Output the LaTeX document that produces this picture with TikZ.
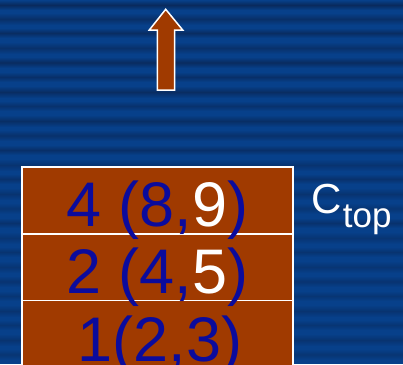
\documentclass[tikz,border=0pt]{standalone}
\usepackage{fontspec}
\setmainfont{Liberation Sans}
\definecolor{bgA}{HTML}{07408A}
\definecolor{bgD}{HTML}{0A2552}
\definecolor{brn}{HTML}{A03A00}
\definecolor{txtblue}{HTML}{0B0B9C}
\tikzset{
  rowbox/.style={draw=white, line width=1.5pt, fill=brn, minimum width=271pt, minimum height=66.5pt, inner sep=0pt},
  lbl/.style={inner sep=0pt, anchor=base, text=txtblue, font=\fontsize{63}{63}\selectfont},
  wlbl/.style={inner sep=0pt, anchor=base west, text=white},
}
\begin{document}
\begin{tikzpicture}[x=1pt,y=-1pt]
\useasboundingbox (0,0) rectangle (403,364);
\fill[bgA] (0,0) rectangle (403,364);
\foreach \y/\h/\o in {0/10/0.8,13/12/0.6,28/10/0.7,42/12/0.55,57/11/0.75,72/10/0.6,86/12/0.7,101/10/0.5,115/12/0.65,130/11/0.55,145/10/0.6,159/12/0.45,174/10/0.5,188/12/0.45,203/11/0.4,218/10/0.5,232/12/0.4,247/10/0.45,261/12/0.4,276/11/0.45,291/10/0.4,305/12/0.45,320/10/0.4,334/12/0.45,349/11/0.4} {
  \shade[top color=bgA, bottom color=bgA, middle color=bgD, opacity=\o] (0,\y) rectangle (403,\y+\h);
}
% arrow
\draw[white, line width=1.5pt, fill=brn, line join=miter]
  (157.3,90) -- (157.3,30) -- (149.3,30) -- (165.7,9.3) -- (182.7,30) -- (174.7,30) -- (174.7,90) -- cycle;
% stack
\node[rowbox] (r4) at (157.5,200.3) {};
\node[rowbox] (r2) at (157.5,267.0) {};
\node[rowbox] (r1) at (157.5,333.6) {};
\node[lbl] (t4) at (157.5,226.7) {4 (8,\textcolor{white}{9})};
\node[lbl] (t2) at (157.5,293.3) {2 (4,\textcolor{white}{5})};
\node[lbl] (t1) at (160,361.5) {1(2,3)};
% label
\node[wlbl, font=\fontsize{42}{42}\selectfont] (c) at (311,213) {C};
\node[wlbl, font=\fontsize{35}{35}\selectfont] (top) at (c.base east) [xshift=1pt, yshift=-14pt] {top};
\end{tikzpicture}
\end{document}
